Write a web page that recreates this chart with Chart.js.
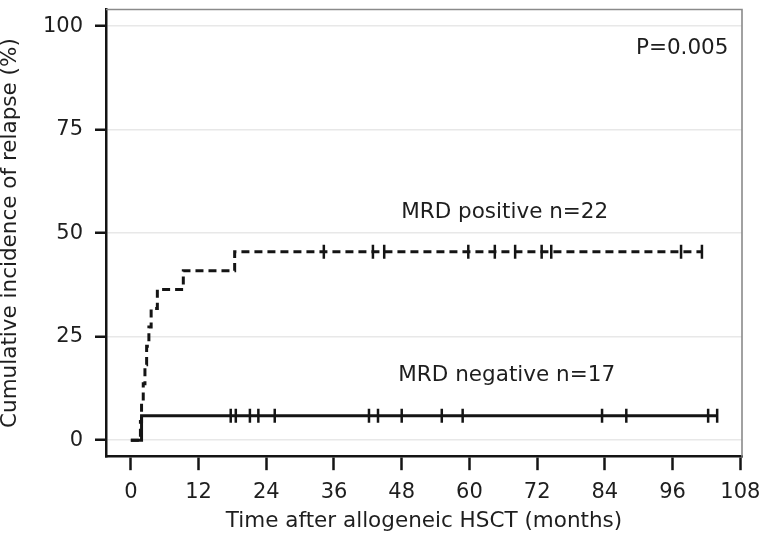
<!DOCTYPE html>
<html lang="en">
<head>
<meta charset="UTF-8">
<title>Cumulative incidence of relapse</title>
<style>
  body { margin: 0; background: #fff; }
  .chartBox { width: 763px; height: 540px; }
</style>
</head>
<body>

<div class="chartBox">
  <canvas id="relapseChart"></canvas>
</div>

<script src="https://cdn.jsdelivr.net/npm/chart.js"></script>
<script>
  // step curves (months, %)
  const posTimes = [0, 1.7, 1.9, 2.2, 2.5, 2.8, 3.2, 3.6, 4.7, 9.3, 18.4, 101.2];
  const posValues = [0, 4.5, 9.1, 13.6, 18.2, 22.7, 27.3, 31.8, 36.4, 40.9, 45.5, 45.5];
  const negTimes = [0, 1.9, 103.9];
  const negValues = [0, 5.9, 5.9];

  // censored patients (tick marks)
  const posCensored = [34.2, 42.9, 44.9, 59.8, 64.5, 68.1, 72.8, 74.5, 97.5, 101.2];
  const negCensored = [17.7, 18.6, 21.1, 22.6, 25.5, 42.2, 43.8, 48.0, 55.1, 58.8, 83.5, 87.8, 102.3, 103.9];

  const xTickValues = [0, 12, 24, 36, 48, 60, 72, 84, 96, 108];
  const yTickValues = [0, 25, 50, 75, 100];

  const xTitle = 'Time after allogeneic HSCT (months)';
  const yTitle = 'Cumulative incidence of relapse (%)';
  const noteTexts = ['P=0.005', 'MRD positive n=22', 'MRD negative n=17'];

  function levelAt(times, values, t) {
    let v = values[0];
    for (let i = 0; i < times.length; i++) {
      if (times[i] <= t) v = values[i];
    }
    return v;
  }

  function toPoints(times, values) {
    return times.map((t, i) => ({ x: t, y: values[i] }));
  }

  const ink = '#141414';
  const fontFamily = '"DejaVu Sans", "Liberation Sans", sans-serif';
  Chart.defaults.font.family = fontFamily;
  Chart.defaults.color = '#1e1e1e';

  // top and right sides of the box, thin grey
  const framePlugin = {
    id: 'frame',
    beforeDatasetsDraw(chart) {
      const { ctx, chartArea: a } = chart;
      ctx.save();
      ctx.strokeStyle = '#8a8a8a';
      ctx.lineWidth = 1.6;
      ctx.beginPath();
      ctx.moveTo(a.left, a.top);
      ctx.lineTo(a.right, a.top);
      ctx.lineTo(a.right, a.bottom);
      ctx.stroke();
      ctx.restore();
    }
  };

  // text inside the plot, placed in data units
  const notePlacement = [
    { x: 105.9, y: 94.5, align: 'right' },
    { x: 47.9, y: 55, align: 'left' },
    { x: 47.4, y: 15.6, align: 'left' }
  ];

  const notesPlugin = {
    id: 'notes',
    afterDatasetsDraw(chart) {
      const { ctx, scales } = chart;
      ctx.save();
      ctx.fillStyle = '#1e1e1e';
      ctx.font = '21.5px ' + fontFamily;
      ctx.textBaseline = 'middle';
      noteTexts.forEach((txt, i) => {
        const p = notePlacement[i];
        ctx.textAlign = p.align;
        ctx.fillText(txt, scales.x.getPixelForValue(p.x), scales.y.getPixelForValue(p.y));
      });
      ctx.restore();
    }
  };

  const ctx = document.getElementById('relapseChart');

  const graficoRecaida = new Chart(ctx, {
    type: 'line',
    data: {
      datasets: [
        {
          label: 'MRD positive',
          data: toPoints(posTimes, posValues),
          stepped: true,
          borderColor: ink,
          borderWidth: 3,
          borderDash: [8, 5],
          pointRadius: 0,
          fill: false
        },
        {
          label: 'MRD negative',
          data: toPoints(negTimes, negValues),
          stepped: true,
          borderColor: ink,
          borderWidth: 3,
          pointRadius: 0,
          fill: false
        },
        {
          type: 'scatter',
          label: 'censored positive',
          data: posCensored.map(t => ({ x: t, y: levelAt(posTimes, posValues, t) })),
          pointStyle: 'line',
          rotation: 90,
          pointRadius: 7,
          borderWidth: 2.5,
          borderColor: ink
        },
        {
          type: 'scatter',
          label: 'censored negative',
          data: negCensored.map(t => ({ x: t, y: levelAt(negTimes, negValues, t) })),
          pointStyle: 'line',
          rotation: 90,
          pointRadius: 7,
          borderWidth: 2.5,
          borderColor: ink
        }
      ]
    },
    options: {
      responsive: true,
      maintainAspectRatio: false,
      animation: false,
      layout: { padding: { top: 6.3, right: 21, bottom: 0, left: 0 } },
      plugins: {
        legend: { display: false },
        tooltip: { enabled: false }
      },
      scales: {
        x: {
          type: 'linear',
          min: -4.4,
          max: 108.3,
          afterBuildTicks: (s) => { s.ticks = xTickValues.map(v => ({ value: v })); },
          afterFit: (s) => {
            s.height = 83.3;
            s.paddingLeft = 0;
            s.paddingRight = 0;
          },
          grid: {
            drawOnChartArea: false,
            tickLength: 13.5,
            tickColor: ink,
            tickWidth: 2.5
          },
          border: { color: ink, width: 2.5 },
          ticks: {
            padding: 2,
            autoSkip: false,
            maxRotation: 0,
            font: { size: 21, lineHeight: 1.98 }
          },
          title: {
            display: true,
            text: xTitle,
            font: { size: 21.5, lineHeight: 1.2 },
            padding: { top: 0, bottom: 6 }
          }
        },
        y: {
          min: -4,
          max: 104,
          afterBuildTicks: (s) => { s.ticks = yTickValues.map(v => ({ value: v })); },
          afterFit: (s) => {
            s.width = 106;
            s.paddingTop = 0;
            s.paddingBottom = 0;
          },
          grid: {
            color: '#e8e8e8',
            lineWidth: 1.5,
            tickLength: 11,
            tickColor: ink,
            tickWidth: 2.5
          },
          border: { color: ink, width: 2.5 },
          ticks: {
            padding: 12,
            font: { size: 21 }
          },
          title: {
            display: true,
            text: yTitle,
            font: { size: 21.5, lineHeight: 1 },
            padding: 0
          }
        }
      }
    },
    plugins: [framePlugin, notesPlugin]
  });
</script>
</body>
</html>
